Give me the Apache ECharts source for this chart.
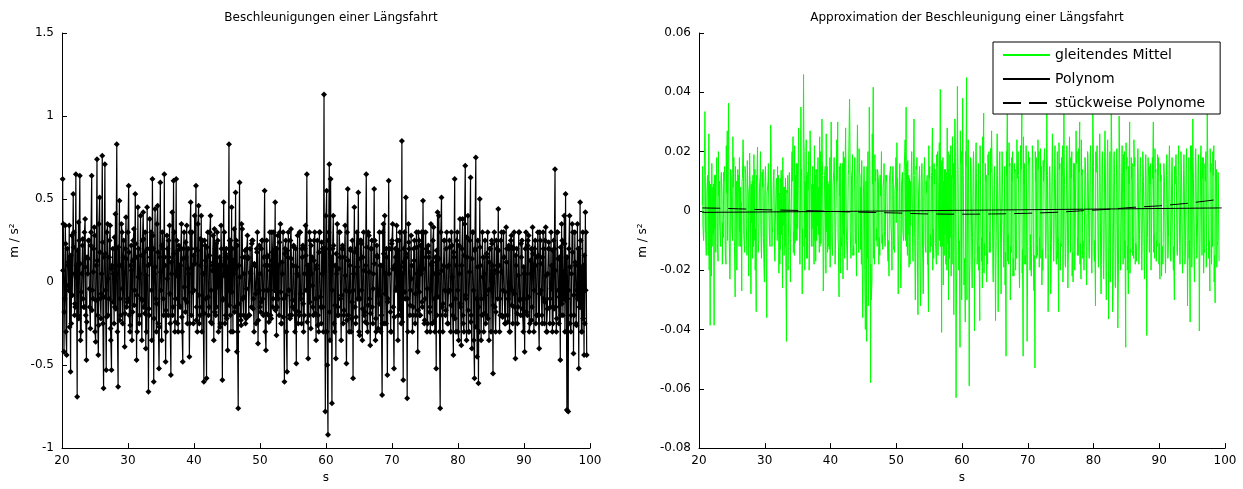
<!DOCTYPE html>
<html>
<head>
<meta charset="utf-8">
<script src="https://cdn.jsdelivr.net/npm/echarts@6/dist/echarts.min.js"></script>
<style>
html,body{margin:0;padding:0;background:#fff;}
#chart{width:1243px;height:489px;}
</style>
</head>
<body>
<div id="chart"></div>
<script>
// ---------- data ----------
// Left plot: measured acceleration, three interleaved sample sets (every 0.2 s each)
const accStartA = 20.1;
const accStartB = 20.2;
const accStartC = 20.15;
const accStep = 0.2;
const accValuesA = [
 0.62,-0.42,0.34,-0.44,0.10,0.34,-0.54,0.28,0.53,-0.20,
 0.65,-0.69,0.36,0.64,-0.30,0.22,-0.15,0.38,-0.47,0.05,
 0.25,-0.28,0.64,-0.10,0.33,-0.36,0.74,-0.44,0.51,-0.22,
 0.76,-0.64,0.71,-0.53,0.35,-0.10,0.34,-0.53,0.20,-0.25,
 0.41,0.83,-0.63,0.49,-0.20,0.30,0.15,-0.39,0.39,-0.12,
 0.58,-0.30,0.22,-0.18,0.32,0.53,-0.47,0.45,-0.25,0.40,
 -0.35,0.42,0.18,-0.40,0.45,-0.66,0.38,0.30,0.62,-0.60,
 0.44,-0.30,0.46,-0.52,0.60,-0.35,0.20,0.65,-0.48,0.28,
 -0.20,0.34,-0.56,0.42,0.61,-0.30,0.62,-0.25,0.22,-0.15,
 0.35,-0.48,0.30,-0.18,0.34,0.20,-0.45,0.48,0.30,-0.25,
 0.40,0.58,-0.30,0.46,-0.20,0.40,0.25,-0.60,0.22,-0.58,
 0.30,-0.15,0.40,-0.25,0.28,0.32,-0.20,0.30,-0.30,0.15,
 0.34,-0.59,0.48,-0.25,0.20,-0.41,0.83,-0.20,0.45,-0.30,
 0.32,0.54,-0.42,-0.76,0.60,-0.23,0.32,-0.20,0.15,-0.22,
 0.28,-0.20,0.20,-0.15,0.25,-0.30,0.10,0.20,-0.37,0.22,
 -0.18,0.25,-0.20,0.55,-0.41,0.15,-0.20,0.30,-0.22,0.18,
 0.30,0.48,-0.32,0.28,-0.20,0.35,-0.25,0.30,-0.60,0.25,
 -0.54,0.30,-0.20,0.32,-0.15,0.22,-0.30,-0.49,0.28,-0.18,
 0.30,-0.25,0.22,-0.20,0.34,0.65,-0.46,0.30,-0.28,0.15,
 -0.20,0.30,-0.35,0.25,-0.30,0.30,-0.25,0.20,1.13,-0.78,
 0.55,-0.92,0.71,0.62,-0.73,0.40,-0.30,-0.46,0.35,-0.20,
 0.30,-0.35,0.22,-0.20,0.34,-0.49,0.56,-0.30,0.20,-0.22,
 -0.58,0.45,-0.25,0.30,0.54,-0.32,0.25,-0.35,0.30,-0.18,
 0.65,-0.30,0.28,-0.38,0.20,-0.25,0.56,-0.35,0.22,-0.28,
 0.30,-0.30,-0.68,0.35,0.40,-0.25,-0.56,0.61,0.20,-0.30,
 0.35,-0.52,0.20,0.34,-0.35,0.25,-0.20,0.85,-0.59,0.30,
 0.51,-0.70,0.35,-0.20,0.28,-0.30,0.20,-0.25,0.30,-0.42,
 0.25,-0.20,0.30,0.49,-0.25,0.30,-0.30,0.22,-0.18,0.35,
 -0.25,0.33,-0.30,-0.52,0.42,0.40,-0.76,0.51,-0.30,0.25,
 -0.20,0.30,-0.25,0.25,-0.30,0.22,-0.44,0.62,-0.30,0.30,
 -0.35,0.38,-0.38,0.38,-0.30,0.70,-0.35,0.40,-0.30,0.63,
 -0.40,0.30,-0.58,0.75,-0.45,-0.61,0.50,-0.35,0.30,-0.30,
 0.25,-0.20,0.30,-0.35,0.20,0.25,-0.55,0.30,-0.30,0.20,
 0.44,-0.30,0.25,-0.20,0.30,-0.25,0.33,-0.20,0.22,-0.30,
 0.28,-0.25,0.30,-0.46,0.20,-0.15,0.30,-0.20,0.25,-0.30,
 -0.42,0.30,-0.20,0.28,-0.25,0.20,0.33,-0.30,0.25,-0.20,
 0.30,-0.40,0.25,-0.20,0.30,-0.25,0.33,-0.30,0.20,-0.25,
 0.30,-0.30,0.25,0.68,-0.30,0.30,-0.25,-0.47,0.35,-0.20,
 0.40,0.53,-0.77,-0.78,0.40,-0.30,0.35,-0.43,0.30,-0.25,
 0.35,-0.52,0.48,-0.30,0.30,-0.44,0.42,-0.44
];
const accValuesB = [
 0.35,-0.10,-0.30,0.20,-0.05,0.15,-0.25,0.05,0.30,-0.15,
 0.10,-0.20,0.25,-0.35,0.05,-0.10,0.30,-0.20,0.15,0.25,
 -0.15,0.30,-0.05,0.20,-0.30,0.10,-0.20,0.35,-0.10,0.05,
 -0.25,0.15,-0.05,0.30,-0.20,0.25,-0.35,0.10,0.05,-0.15,
 0.20,-0.30,0.10,-0.10,0.35,-0.25,0.05,0.20,-0.15,0.30,
 -0.20,0.10,-0.35,0.25,-0.05,0.15,-0.30,0.20,0.05,-0.10,
 0.25,-0.15,0.30,-0.30,0.10,-0.20,0.15,-0.35,0.20,0.05,
 -0.10,0.35,-0.25,0.15,-0.05,0.30,-0.20,0.10,-0.30,0.20,
 0.15,-0.25,0.05,-0.15,0.30,-0.10,0.25,-0.30,0.10,0.20,
 -0.30,0.20,-0.10,0.15,-0.25,0.05,0.30,-0.20,0.10,-0.05,
 0.20,-0.15,0.35,-0.25,0.10,-0.30,0.05,0.25,-0.10,0.15,
 -0.20,0.30,-0.05,0.10,-0.35,0.20,-0.15,0.25,0.05,-0.25,
 0.10,-0.10,0.30,-0.20,0.15,-0.05,0.25,-0.30,0.20,0.05,
 -0.15,0.25,-0.30,0.10,-0.20,0.35,-0.10,0.05,-0.25,0.20,
 0.15,-0.20,0.05,0.25,-0.10,0.10,-0.25,0.30,-0.05,-0.15,
 0.20,-0.10,0.15,-0.30,0.25,-0.05,0.10,-0.20,0.30,-0.10,
 -0.05,0.20,-0.15,0.10,0.30,-0.25,0.05,-0.10,0.20,-0.30,
 0.15,-0.05,0.25,-0.20,0.10,-0.15,0.20,0.05,-0.25,0.30,
 -0.10,0.15,-0.30,0.20,-0.05,0.10,-0.20,0.25,0.05,-0.15,
 0.25,-0.10,0.10,-0.20,0.30,-0.15,0.05,-0.30,0.20,0.40,
 -0.50,0.30,-0.35,0.15,0.20,-0.25,0.10,0.05,-0.15,0.30,
 -0.10,0.20,-0.25,0.15,-0.05,0.30,-0.20,0.10,-0.30,0.25,
 0.05,-0.15,0.20,-0.10,-0.30,0.25,-0.05,0.15,-0.20,0.10,
 -0.25,0.30,-0.10,0.20,-0.15,0.05,0.25,-0.30,0.15,-0.05,
 0.10,-0.20,0.30,-0.25,0.05,0.15,-0.10,0.20,-0.30,0.25,
 -0.15,0.10,-0.05,0.25,-0.20,0.30,-0.25,0.05,0.20,-0.10,
 0.15,-0.30,0.20,-0.05,0.10,-0.15,0.25,-0.20,0.05,0.30,
 -0.20,0.05,-0.15,0.30,-0.10,0.20,-0.25,0.15,-0.30,0.10,
 0.25,-0.10,0.15,-0.20,0.05,-0.30,0.30,-0.15,0.10,-0.05,
 0.20,-0.25,0.10,-0.05,0.30,-0.20,0.15,-0.10,0.25,-0.30,
 0.05,-0.15,0.20,-0.25,0.35,-0.10,0.15,-0.30,0.25,-0.20,
 0.30,-0.35,0.20,-0.10,0.25,-0.30,0.10,-0.20,0.15,0.05,
 -0.25,0.15,-0.05,0.20,-0.30,0.10,0.05,-0.15,0.25,-0.10,
 0.10,-0.20,0.30,-0.05,0.15,-0.25,0.20,-0.10,-0.30,0.25,
 -0.05,0.20,-0.15,0.10,-0.25,0.30,-0.10,0.15,-0.20,0.05,
 0.20,-0.10,0.25,-0.30,0.05,-0.15,0.10,0.20,-0.25,0.15,
 -0.20,0.30,-0.05,0.15,-0.10,0.25,-0.30,0.05,0.20,-0.15,
 0.10,-0.25,0.20,-0.15,0.30,-0.05,0.15,-0.20,0.25,-0.10,
 -0.30,0.15,-0.10,0.20,-0.25,0.05,0.30,-0.20,0.10,-0.05,
 0.20,-0.15,0.25,-0.30,0.10,-0.25,0.30
];
const accValuesC = [
 0.07,-0.18,0.23,-0.02,0.12,-0.27,0.16,-0.08,0.21,-0.13,
 0.03,0.19,-0.22,0.11,-0.06,0.26,-0.15,0.09,-0.24,0.14,
 -0.04,0.22,-0.17,0.06,0.28,-0.11,0.13,-0.26,0.18,-0.07,
 0.24,-0.09,0.17,-0.21,0.02,0.15,-0.28,0.08,-0.12,0.27,
 -0.16,0.05,0.21,-0.23,0.10,-0.04,0.25,-0.19,0.14,-0.10,
 0.18,-0.26,0.07,0.13,-0.14,0.23,-0.08,0.03,-0.20,0.16,
 -0.11,0.26,-0.19,0.04,0.20,-0.16,0.11,-0.05,0.28,-0.22,
 0.09,-0.13,0.18,-0.27,0.06,0.22,-0.10,0.15,-0.17,0.02,
 0.25,-0.07,0.12,-0.20,0.17,-0.24,0.04,0.19,-0.14,0.10,
 -0.21,0.14,-0.03,0.24,-0.12,0.08,-0.25,0.20,-0.06,0.16,
 0.11,-0.23,0.19,-0.08,0.26,-0.15,0.05,-0.19,0.13,0.21,
 -0.09,0.16,-0.24,0.07,0.12,-0.18,0.23,-0.03,0.10,-0.27,
 0.20,-0.11,0.04,0.17,-0.22,0.09,-0.14,0.25,-0.06,0.13,
 -0.18,0.08,0.22,-0.13,0.03,-0.26,0.15,-0.09,0.19,-0.04,
 0.14,-0.20,0.06,0.23,-0.16,0.11,-0.07,0.18,-0.23,0.05,
 -0.12,0.25,-0.05,0.10,-0.19,0.16,-0.24,0.07,0.13,-0.15,
 0.06,-0.17,0.20,-0.10,0.24,-0.06,0.12,-0.21,0.17,-0.08,
 0.19,-0.05,-0.22,0.14,-0.11,0.21,-0.17,0.09,0.04,-0.20,
 -0.07,0.20,-0.13,0.05,0.16,-0.24,0.10,-0.12,0.22,-0.02,
 0.13,-0.19,0.08,-0.26,0.18,-0.09,0.24,-0.15,0.06,0.20,
 -0.30,0.25,-0.18,0.10,-0.05,0.22,-0.14,0.17,-0.20,0.08,
 0.15,-0.08,0.20,-0.17,0.04,-0.23,0.13,-0.06,0.19,-0.12,
 -0.05,0.18,-0.21,0.09,0.14,-0.10,0.23,-0.16,0.07,-0.24,
 0.21,-0.14,0.06,-0.19,0.25,-0.04,0.11,-0.22,0.16,-0.08,
 -0.13,0.10,-0.25,0.17,-0.07,0.20,-0.12,0.05,-0.18,0.23,
 0.08,-0.21,0.15,-0.03,0.19,-0.16,0.09,-0.24,0.12,-0.06,
 0.17,-0.10,0.24,-0.14,0.02,-0.20,0.13,-0.07,0.21,-0.17,
 -0.06,0.22,-0.12,0.08,-0.23,0.15,-0.04,0.18,-0.15,0.11,
 0.12,-0.24,0.05,0.19,-0.09,0.14,-0.20,0.07,-0.13,0.25,
 -0.17,0.09,-0.06,0.21,-0.14,0.03,0.18,-0.22,0.10,-0.05,
 0.22,-0.13,0.10,-0.20,0.16,-0.08,0.27,-0.17,0.06,-0.24,
 0.14,-0.05,0.19,-0.27,0.09,-0.15,0.21,-0.10,0.03,-0.19,
 -0.08,0.17,-0.22,0.12,-0.04,0.23,-0.14,0.07,-0.18,0.10,
 0.19,-0.10,0.06,-0.21,0.15,-0.06,0.12,-0.24,0.20,-0.03,
 -0.14,0.21,-0.07,0.16,-0.19,0.04,-0.11,0.23,-0.16,0.09,
 0.05,-0.18,0.22,-0.09,0.13,-0.23,0.17,-0.05,0.10,-0.20,
 0.16,-0.07,0.11,-0.25,0.20,-0.12,0.04,-0.16,0.24,-0.10,
 -0.04,0.19,-0.16,0.07,-0.22,0.14,-0.09,0.21,-0.13,0.06,
 0.23,-0.11,0.15,-0.05,0.09,-0.20,0.18,-0.08,0.12,-0.26,
 -0.10,0.20,-0.15,0.08,-0.22,0.16,-0.05
];

// Right plot: moving average, three interleaved sample sets (every 0.2 s each)
const avgStartA = 20.5;
const avgStartB = 20.6;
const avgStartC = 20.55;
const avgStep = 0.2;
const avgValuesA = [
 0.002,-0.010,0.0335,-0.015,0.012,0.026,-0.0386,-0.022,0.008,-0.0386,
 0.012,0.018,-0.017,0.010,-0.012,0.006,-0.009,0.015,-0.018,0.027,
 0.0363,-0.023,0.012,-0.010,0.018,-0.029,0.010,0.014,-0.012,0.008,
 -0.027,0.024,-0.008,0.012,-0.015,0.006,0.0195,-0.028,0.010,-0.012,
 0.014,-0.034,0.0215,-0.010,0.012,-0.016,0.008,-0.020,0.015,-0.036,
 0.010,-0.008,0.029,-0.012,0.010,-0.015,0.006,-0.010,0.012,-0.018,
 0.0137,-0.026,0.008,-0.012,-0.044,0.012,0.010,-0.024,0.015,0.025,
 -0.015,0.012,-0.010,0.018,-0.012,0.035,-0.028,0.046,-0.020,0.024,
 -0.016,0.020,0.027,-0.012,0.015,-0.018,0.012,-0.010,0.018,-0.014,
 0.020,0.031,-0.027,0.012,-0.021,0.015,-0.012,0.018,0.030,-0.015,
 0.014,-0.018,0.012,0.030,-0.029,0.016,-0.012,-0.023,0.018,0.028,
 -0.015,0.012,0.0377,-0.016,0.014,-0.012,0.018,-0.010,0.029,-0.014,
 0.012,-0.018,-0.036,0.015,-0.040,-0.044,0.020,0.035,-0.058,-0.024,
 0.0417,-0.018,0.014,-0.012,0.010,-0.015,0.012,-0.008,0.011,-0.012,
 0.010,-0.014,-0.022,0.012,-0.010,0.015,-0.012,0.010,0.023,-0.028,
 0.014,-0.026,0.012,-0.010,0.020,0.035,-0.015,0.012,-0.018,0.014,
 -0.012,0.031,-0.030,0.014,-0.035,0.012,-0.032,0.016,-0.028,0.018,
 -0.014,0.012,-0.034,0.015,-0.012,0.028,-0.016,0.014,-0.018,0.020,
 0.016,0.041,-0.041,0.018,-0.015,0.014,-0.020,0.020,-0.016,0.022,
 -0.018,0.016,0.031,-0.063,0.042,-0.020,-0.046,0.020,0.038,-0.025,
 -0.0375,0.045,0.020,-0.059,0.018,-0.020,0.015,-0.0405,0.020,-0.018,
 0.016,-0.037,0.014,-0.026,0.033,-0.015,0.012,-0.018,0.020,-0.014,
 0.027,-0.020,0.012,-0.037,0.016,-0.034,0.018,-0.016,0.020,-0.012,
 0.015,-0.049,0.038,-0.018,0.016,-0.014,0.020,-0.022,0.014,-0.016,
 0.018,-0.020,0.022,0.033,-0.049,0.016,-0.018,-0.044,0.020,0.018,
 -0.020,0.022,-0.025,-0.053,0.018,-0.015,0.020,-0.016,0.015,-0.020,
 0.018,-0.014,0.033,-0.034,0.014,-0.028,0.016,-0.012,0.018,-0.015,
 0.020,-0.034,0.016,-0.012,0.022,0.033,-0.018,0.014,-0.026,0.018,
 -0.014,0.020,-0.024,0.016,-0.012,0.020,-0.015,0.030,-0.023,0.014,
 -0.012,0.018,-0.016,0.020,-0.014,0.016,-0.018,0.034,-0.015,-0.032,
 0.020,-0.014,0.018,-0.020,0.016,-0.018,0.020,-0.022,0.018,-0.0365,
 0.020,0.034,-0.034,0.018,-0.025,0.016,-0.0395,0.032,-0.020,0.015,
 -0.018,0.020,-0.046,0.018,-0.028,0.030,-0.014,0.016,-0.016,0.018,
 -0.012,0.016,-0.018,0.014,-0.015,0.020,-0.012,0.016,-0.042,0.018,
 -0.014,0.016,-0.012,0.030,-0.016,0.014,-0.012,0.018,-0.023,0.012,
 -0.012,0.016,-0.014,0.012,-0.016,0.018,-0.012,0.014,-0.016,-0.030,
 0.016,-0.014,0.018,-0.012,0.020,-0.016,0.014,-0.018,0.016,-0.032,
 0.018,-0.0375,0.022,0.031,-0.018,0.020,-0.016,0.014,-0.0405,0.020,
 -0.015,0.018,-0.014,0.020,0.034,-0.016,-0.027,0.016,-0.012,0.022,
 -0.031,0.014,-0.010,-0.017
];
const avgValuesB = [
 -0.005,0.012,-0.008,0.006,-0.015,0.010,0.004,-0.012,0.009,-0.006,
 0.008,-0.011,0.005,-0.007,0.013,-0.004,0.010,-0.014,0.006,0.011,
 -0.009,0.014,-0.006,0.008,-0.012,0.005,-0.010,0.012,-0.007,0.003,
 0.011,-0.008,0.015,-0.005,0.009,-0.013,0.007,-0.004,0.012,-0.010,
 -0.006,0.010,-0.014,0.008,-0.005,0.013,-0.009,0.006,-0.011,0.007,
 0.004,-0.012,0.009,-0.007,0.014,-0.005,0.011,-0.008,0.006,-0.013,
 0.012,-0.005,0.008,-0.015,0.006,-0.009,0.013,-0.004,0.010,-0.007,
 -0.011,0.016,-0.006,0.010,-0.008,0.014,-0.012,0.020,-0.009,0.012,
 0.007,-0.013,0.011,-0.006,0.009,-0.010,0.014,-0.005,0.008,-0.012,
 -0.004,0.012,-0.009,0.015,-0.007,0.010,-0.013,0.006,-0.011,0.009,
 0.013,-0.006,0.010,-0.012,0.005,-0.009,0.016,-0.008,0.011,-0.005,
 -0.010,0.014,-0.007,0.012,-0.015,0.006,-0.011,0.009,-0.004,0.013,
 0.008,-0.012,0.005,-0.020,0.010,-0.016,-0.025,0.012,-0.030,0.009,
 -0.012,0.010,-0.006,0.013,-0.009,0.005,-0.011,0.008,-0.007,0.012,
 0.006,-0.010,0.012,-0.005,0.009,-0.013,0.007,-0.004,0.011,-0.008,
 -0.013,0.009,-0.006,0.014,-0.010,0.016,-0.008,0.011,-0.005,0.010,
 0.012,-0.009,0.015,-0.012,0.007,-0.016,0.010,-0.013,0.008,-0.011,
 0.006,-0.014,0.011,-0.008,0.013,-0.006,0.009,-0.012,0.015,-0.007,
 -0.010,0.016,-0.012,0.010,-0.008,0.013,-0.011,0.014,-0.009,0.012,
 0.011,-0.015,0.018,-0.020,0.014,-0.010,0.016,-0.013,0.012,-0.016,
 0.015,-0.012,0.010,-0.018,0.013,-0.009,0.014,-0.015,0.011,-0.008,
 -0.012,0.014,-0.009,0.016,-0.011,0.010,-0.014,0.012,-0.007,0.013,
 0.009,-0.013,0.015,-0.010,0.012,-0.016,0.008,-0.011,0.014,-0.009,
 -0.014,0.012,-0.008,0.015,-0.012,0.010,-0.016,0.013,-0.010,0.011,
 0.012,-0.010,0.014,-0.013,0.009,-0.015,0.011,-0.012,0.016,-0.008,
 -0.011,0.013,-0.015,0.010,-0.012,0.014,-0.009,0.012,-0.013,0.010,
 0.013,-0.009,0.012,-0.014,0.010,-0.011,0.015,-0.008,0.011,-0.013,
 -0.009,0.014,-0.011,0.012,-0.015,0.009,-0.010,0.013,-0.012,0.015,
 0.011,-0.014,0.010,-0.012,0.016,-0.009,0.013,-0.011,0.012,-0.010,
 -0.013,0.012,-0.016,0.011,-0.009,0.014,-0.012,0.015,-0.010,0.013,
 0.014,-0.011,0.016,-0.018,0.012,-0.014,0.018,-0.020,0.015,-0.012,
 -0.015,0.016,-0.020,0.013,-0.016,0.012,-0.018,0.014,-0.011,0.013,
 0.012,-0.010,0.014,-0.012,0.009,-0.013,0.011,-0.009,0.015,-0.011,
 -0.010,0.013,-0.008,0.011,-0.012,0.010,-0.014,0.012,-0.009,0.011,
 0.009,-0.012,0.011,-0.008,0.013,-0.010,0.012,-0.011,0.010,-0.013,
 -0.011,0.010,-0.013,0.012,-0.009,0.014,-0.010,0.011,-0.012,0.009,
 0.012,-0.009,0.014,-0.011,0.010,-0.013,0.012,-0.010,0.013,-0.012,
 -0.010,0.014,-0.012,0.011,-0.015,0.013,-0.009,0.012,-0.011,0.014,
 0.011,-0.013,0.010,-0.012,0.014,-0.010,0.013,-0.011,0.012,-0.015,
 0.010,-0.012,0.008
];
const avgValuesC = [
 0.015,-0.006,0.021,-0.012,0.004,-0.020,0.009,0.016,-0.008,0.012,
 -0.014,0.007,0.020,-0.005,0.011,-0.018,0.013,-0.003,0.022,-0.010,
 0.006,-0.016,0.012,0.025,-0.009,0.015,-0.020,0.008,0.018,-0.012,
 0.010,0.020,-0.014,0.006,0.017,-0.022,0.012,0.009,-0.016,0.019,
 -0.020,0.012,0.005,-0.010,0.020,-0.007,0.014,-0.024,0.010,0.006,
 0.016,-0.011,0.023,-0.006,0.012,-0.017,0.009,0.015,-0.021,0.011,
 -0.008,0.018,-0.015,0.011,0.007,-0.020,0.013,-0.009,0.020,-0.014,
 0.022,-0.010,0.016,0.028,-0.018,0.012,-0.006,0.024,0.010,-0.016,
 0.013,-0.020,0.019,0.009,-0.012,0.022,-0.017,0.014,-0.008,0.025,
 -0.011,0.017,-0.022,0.012,0.026,-0.014,0.009,-0.019,0.021,-0.007,
 0.018,-0.013,0.024,-0.009,0.015,-0.021,0.011,0.020,-0.016,0.013,
 -0.020,0.014,0.027,-0.011,0.019,-0.015,0.008,-0.022,0.016,0.021,
 -0.013,0.017,-0.024,0.010,-0.028,0.015,-0.032,0.022,-0.018,0.026,
 -0.016,0.019,-0.010,0.014,-0.018,0.012,0.020,-0.013,0.016,-0.009,
 0.012,-0.017,0.009,0.015,-0.020,0.011,-0.014,0.018,0.007,-0.012,
 0.016,-0.021,0.013,-0.008,0.024,-0.012,0.017,-0.019,0.010,0.020,
 -0.017,0.012,-0.021,0.018,-0.010,0.015,-0.025,0.011,-0.016,0.014,
 0.010,-0.018,0.022,-0.014,0.012,-0.020,0.016,-0.011,0.019,-0.015,
 0.023,-0.012,0.017,-0.025,0.014,-0.018,0.028,-0.030,0.019,-0.022,
 0.025,-0.035,0.030,-0.028,0.022,-0.020,0.027,-0.030,0.018,-0.025,
 0.020,-0.030,0.024,-0.022,0.017,-0.026,0.020,-0.018,0.023,-0.015,
 -0.020,0.022,-0.017,0.025,-0.021,0.016,-0.024,0.019,-0.014,0.021,
 0.018,-0.024,0.015,-0.020,0.026,-0.016,0.020,-0.028,0.014,-0.019,
 -0.025,0.020,-0.017,0.023,-0.030,0.018,-0.022,0.016,-0.020,0.024,
 0.020,-0.026,0.017,-0.021,0.025,-0.018,0.022,-0.030,0.016,-0.020,
 -0.022,0.018,-0.027,0.020,-0.016,0.024,-0.019,0.021,-0.025,0.017,
 0.021,-0.016,0.019,-0.024,0.015,-0.020,0.026,-0.017,0.022,-0.018,
 -0.016,0.023,-0.020,0.018,-0.024,0.015,-0.019,0.022,-0.017,0.025,
 0.018,-0.022,0.016,-0.020,0.027,-0.015,0.021,-0.018,0.024,-0.016,
 -0.020,0.017,-0.025,0.019,-0.016,0.022,-0.021,0.026,-0.017,0.020,
 0.022,-0.019,0.026,-0.028,0.020,-0.023,0.027,-0.030,0.024,-0.020,
 -0.024,0.025,-0.030,0.020,-0.026,0.021,-0.028,0.023,-0.019,0.022,
 0.019,-0.016,0.023,-0.020,0.015,-0.021,0.018,-0.015,0.024,-0.018,
 -0.017,0.021,-0.014,0.018,-0.020,0.016,-0.023,0.019,-0.015,0.018,
 0.015,-0.020,0.018,-0.014,0.021,-0.017,0.019,-0.018,0.016,-0.022,
 -0.018,0.016,-0.021,0.019,-0.015,0.022,-0.017,0.018,-0.020,0.015,
 0.019,-0.015,0.022,-0.018,0.016,-0.021,0.019,-0.016,0.021,-0.019,
 -0.016,0.022,-0.019,0.018,-0.024,0.021,-0.015,0.019,-0.018,0.022,
 0.018,-0.021,0.016,-0.019,0.023,-0.016,0.021,-0.018,0.020,-0.024,
 0.017,-0.019,0.013
];

// Polynomial fit (time, value)
const polyTimes  = [20.5, 40, 60, 80, 99.5];
const polyValues = [-0.0005, -0.0002, 0.0002, 0.0006, 0.001];

// Piecewise polynomial fit (time, value)
const pieceTimes  = [20.5, 23, 26, 30, 34, 38, 42, 46, 50, 54, 58, 62, 66, 70, 74, 78, 82, 86, 90, 94, 97, 99.5];
const pieceValues = [0.001, 0.0009, 0.0007, 0.0004, 0.0002, 0.0, -0.0003, -0.0005, -0.0007, -0.001, -0.0011, -0.0011, -0.001, -0.0008, -0.0005, 0.0, 0.0005, 0.0012, 0.0017, 0.0025, 0.0033, 0.004];

const leftTitle  = 'Beschleunigungen einer Längsfahrt';
const rightTitle = 'Approximation der Beschleunigung einer Längsfahrt';
const legendNames = ['gleitendes Mittel', 'Polynom', 'stückweise Polynome'];
const yName = 'm / s²';
const xName = 's';

// ---------- build ----------
const r4 = v => Math.round(v * 10000) / 10000;
function interleave(sets, step) {
  let pts = [];
  sets.forEach(([start, vals]) => {
    pts = pts.concat(vals.map((v, i) => [r4(start + i * step), v]));
  });
  pts.sort((a, b) => a[0] - b[0]);
  return pts;
}
const accData = interleave([[accStartA, accValuesA], [accStartB, accValuesB], [accStartC, accValuesC]], accStep);
const avgData = interleave([[avgStartA, avgValuesA], [avgStartB, avgValuesB], [avgStartC, avgValuesC]], avgStep);
const polyData = polyTimes.map((t, i) => [t, polyValues[i]]);
const pieceData = pieceTimes.map((t, i) => [t, pieceValues[i]]);

const FONT = 'DejaVu Sans';
const axisCommon = {
  axisLine: { show: true, onZero: false, lineStyle: { color: '#000', width: 1 } },
  axisTick: { show: true, inside: true, length: 5, lineStyle: { color: '#000' } },
  splitLine: { show: false },
  axisLabel: { color: '#000', fontFamily: FONT, fontSize: 12, showMinLabel: true, showMaxLabel: true },
  nameTextStyle: { color: '#000', fontFamily: FONT, fontSize: 12 }
};

function xAxis(gridIndex) {
  return Object.assign({}, axisCommon, {
    type: 'value', gridIndex, min: 20, max: 100, interval: 10,
    name: xName, nameLocation: 'middle', nameGap: 22,
    axisLabel: Object.assign({}, axisCommon.axisLabel, { margin: 7 })
  });
}

const chart = echarts.init(document.getElementById('chart'), null, { renderer: 'canvas' });
chart.setOption({
  animation: false,
  backgroundColor: '#fff',
  title: [
    { text: leftTitle, left: 326, top: 7, textAlign: 'center',
      textStyle: { fontFamily: FONT, fontSize: 12, fontWeight: 'normal', color: '#000' } },
    { text: rightTitle, left: 962, top: 7, textAlign: 'center',
      textStyle: { fontFamily: FONT, fontSize: 12, fontWeight: 'normal', color: '#000' } }
  ],
  grid: [
    { left: 62, right: 653, top: 33, bottom: 40 },
    { left: 699, right: 18, top: 33, bottom: 40 }
  ],
  xAxis: [xAxis(0), xAxis(1)],
  yAxis: [
    Object.assign({}, axisCommon, {
      type: 'value', gridIndex: 0, min: -1, max: 1.5, interval: 0.5,
      name: yName, nameLocation: 'middle', nameGap: 41
    }),
    Object.assign({}, axisCommon, {
      type: 'value', gridIndex: 1, min: -0.08, max: 0.06, interval: 0.02,
      name: yName, nameLocation: 'middle', nameGap: 50
    })
  ],
  legend: {
    data: legendNames,
    orient: 'vertical',
    left: 993, top: 42,
    padding: [6, 15, 4, 9],
    itemWidth: 47, itemHeight: 14, itemGap: 10,
    backgroundColor: '#fff',
    borderColor: '#000', borderWidth: 1, borderRadius: 0,
    itemStyle: { opacity: 0 },
    textStyle: { fontFamily: FONT, fontSize: 14, color: '#000' },
    z: 10
  },
  series: [
    {
      type: 'line', xAxisIndex: 0, yAxisIndex: 0, data: accData,
      symbol: 'diamond', symbolSize: [6, 6], showAllSymbol: true,
      lineStyle: { color: '#000', width: 1.2 },
      itemStyle: { color: '#000' },
      emphasis: { disabled: true }
    },
    {
      name: legendNames[0], type: 'line', xAxisIndex: 1, yAxisIndex: 1, data: avgData,
      symbol: 'none', lineStyle: { color: '#00ff00', width: 1 }, itemStyle: { color: '#00ff00' },
      emphasis: { disabled: true }
    },
    {
      name: legendNames[1], type: 'line', xAxisIndex: 1, yAxisIndex: 1, data: polyData,
      symbol: 'none', lineStyle: { color: '#000', width: 1 }, itemStyle: { color: '#000' },
      emphasis: { disabled: true }
    },
    {
      name: legendNames[2], type: 'line', xAxisIndex: 1, yAxisIndex: 1, data: pieceData,
      symbol: 'none', lineStyle: { color: '#000', width: 1, type: [18, 8] }, itemStyle: { color: '#000' },
      emphasis: { disabled: true }
    }
  ]
});
</script>
</body>
</html>
